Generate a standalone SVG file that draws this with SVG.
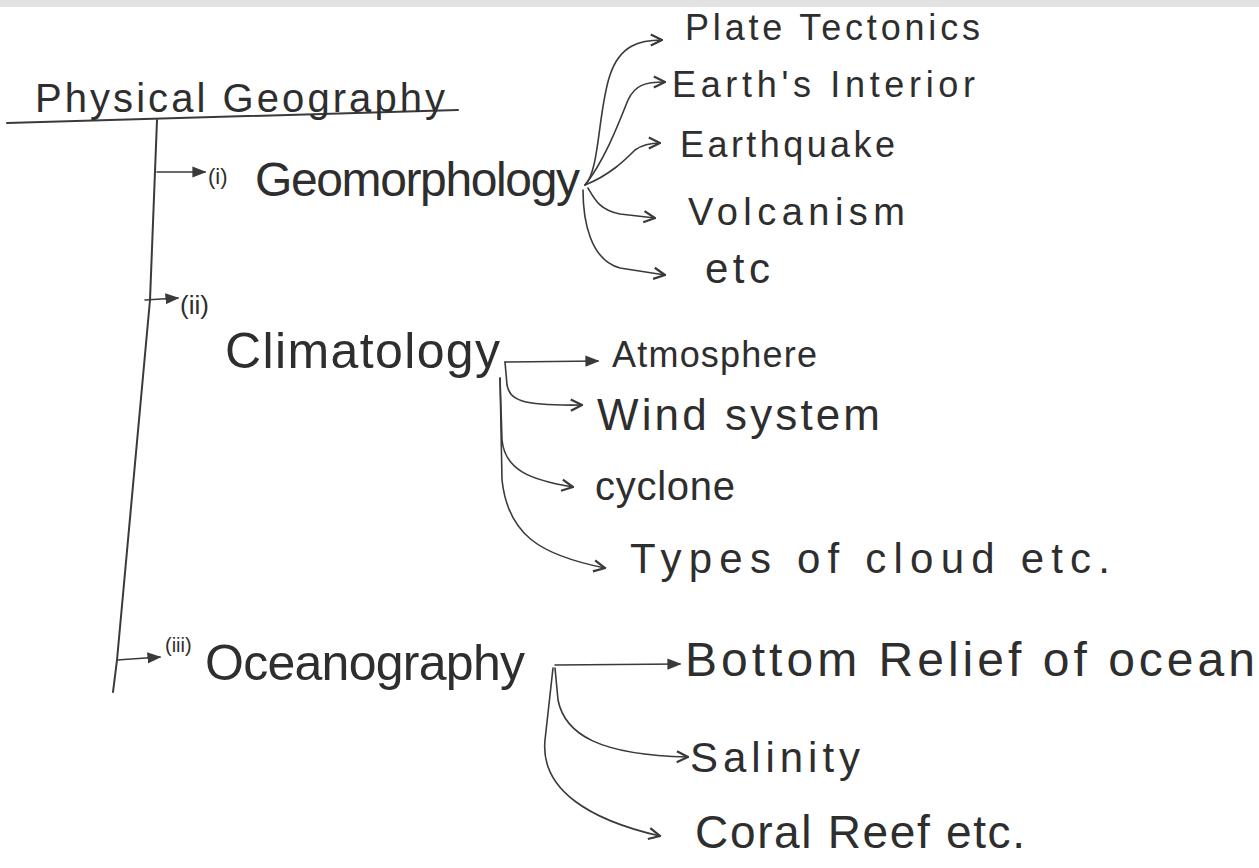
<svg xmlns="http://www.w3.org/2000/svg" width="1259" height="868" viewBox="0 0 1259 868">
<style>
.t{font-family:"Liberation Sans","DejaVu Sans",sans-serif;fill:#2e2e2e}
.c{fill:none;stroke:#3a3a3a;stroke-width:1.6;stroke-linecap:round;stroke-linejoin:round}
.k{stroke-width:2}
</style>
<defs>
<marker id="af" viewBox="0 0 10 10" refX="9" refY="5" markerWidth="14" markerHeight="14" markerUnits="userSpaceOnUse" orient="auto"><path d="M0,1 L10,5 L0,9 Z" fill="#3a3a3a"/></marker>
<marker id="ao" viewBox="0 0 10 10" refX="9" refY="5" markerWidth="14" markerHeight="14" markerUnits="userSpaceOnUse" orient="auto"><path d="M1,1 L9,5 L1,9" fill="none" stroke="#3a3a3a" stroke-width="1.6"/></marker>
</defs>
<rect x="0" y="0" width="1259" height="868" fill="#ffffff"/>
<rect x="0" y="0" width="1259" height="7" fill="#e2e2e2"/>
<g id="connectors">
<path class="c k" d="M7,123 L458,110"/>
<path class="c k" d="M157,120 L150,300 L117,660 L113,692"/>
<path class="c" d="M157,172 L205,172" marker-end="url(#af)"/>
<path class="c" d="M145,300 L178,298" marker-end="url(#af)"/>
<path class="c" d="M117,660 L160,657" marker-end="url(#af)"/>
<path class="c" d="M585,185 C600,170 598,110 610,75 C620,45 640,40 662,40" marker-end="url(#ao)"/>
<path class="c" d="M585,185 C605,160 620,120 628,100 C635,85 645,82 665,82" marker-end="url(#ao)"/>
<path class="c" d="M585,185 C610,175 625,160 635,150 C642,145 650,143 660,143" marker-end="url(#ao)"/>
<path class="c" d="M588,188 C595,200 600,210 620,214 L655,218" marker-end="url(#ao)"/>
<path class="c" d="M583,190 C583,220 590,260 620,268 L665,275" marker-end="url(#ao)"/>
<path class="c" d="M505,362 L598,361" marker-end="url(#af)"/>
<path class="c" d="M505,362 L507,385 C510,400 520,406 582,405" marker-end="url(#ao)"/>
<path class="c" d="M500,378 L502,440 C505,470 530,480 573,487" marker-end="url(#ao)"/>
<path class="c" d="M500,378 L502,480 C508,535 540,555 605,568" marker-end="url(#ao)"/>
<path class="c" d="M555,665 L680,664" marker-end="url(#af)"/>
<path class="c" d="M555,668 L558,700 C565,735 600,755 688,757" marker-end="url(#ao)"/>
<path class="c" d="M553,668 L545,740 C540,790 590,820 660,836" marker-end="url(#ao)"/>
</g>
<g id="root"><text class="t" x="35" y="112" font-size="40" textLength="410" lengthAdjust="spacing">Physical Geography</text></g>
<g id="geomorphology">
<text class="t" x="208" y="184" font-size="22">(i)</text>
<text class="t" x="255" y="196" font-size="48" textLength="325" lengthAdjust="spacing">Geomorphology</text>
</g>
<g id="climatology">
<text class="t" x="180" y="314" font-size="26">(ii)</text>
<text class="t" x="225" y="368" font-size="50" textLength="275" lengthAdjust="spacing">Climatology</text>
</g>
<g id="oceanography">
<text class="t" x="165" y="652" font-size="20">(iii)</text>
<text class="t" x="205" y="680" font-size="50" textLength="320" lengthAdjust="spacing">Oceanography</text>
</g>
<g id="plate-tectonics"><text class="t" x="685" y="40" font-size="36" textLength="295" lengthAdjust="spacing">Plate Tectonics</text></g>
<g id="earths-interior"><text class="t" x="672" y="97" font-size="36" textLength="303" lengthAdjust="spacing">Earth's Interior</text></g>
<g id="earthquake"><text class="t" x="680" y="157" font-size="36" textLength="215" lengthAdjust="spacing">Earthquake</text></g>
<g id="volcanism"><text class="t" x="688" y="225" font-size="38" textLength="217" lengthAdjust="spacing">Volcanism</text></g>
<g id="etc"><text class="t" x="705" y="283" font-size="42" textLength="65" lengthAdjust="spacing">etc</text></g>
<g id="atmosphere"><text class="t" x="612" y="367" font-size="36" textLength="205" lengthAdjust="spacing">Atmosphere</text></g>
<g id="wind-system"><text class="t" x="597" y="430" font-size="44" textLength="283" lengthAdjust="spacing">Wind system</text></g>
<g id="cyclone"><text class="t" x="595" y="500" font-size="40" textLength="140" lengthAdjust="spacing">cyclone</text></g>
<g id="types-of-cloud"><text class="t" x="630" y="573" font-size="42" textLength="480" lengthAdjust="spacing">Types of cloud etc.</text></g>
<g id="bottom-relief"><text class="t" x="685" y="676" font-size="48" textLength="570" lengthAdjust="spacing">Bottom Relief of ocean</text></g>
<g id="salinity"><text class="t" x="690" y="772" font-size="42" textLength="170" lengthAdjust="spacing">Salinity</text></g>
<g id="coral-reef"><text class="t" x="695" y="848" font-size="46" textLength="330" lengthAdjust="spacing">Coral Reef etc.</text></g>
</svg>
